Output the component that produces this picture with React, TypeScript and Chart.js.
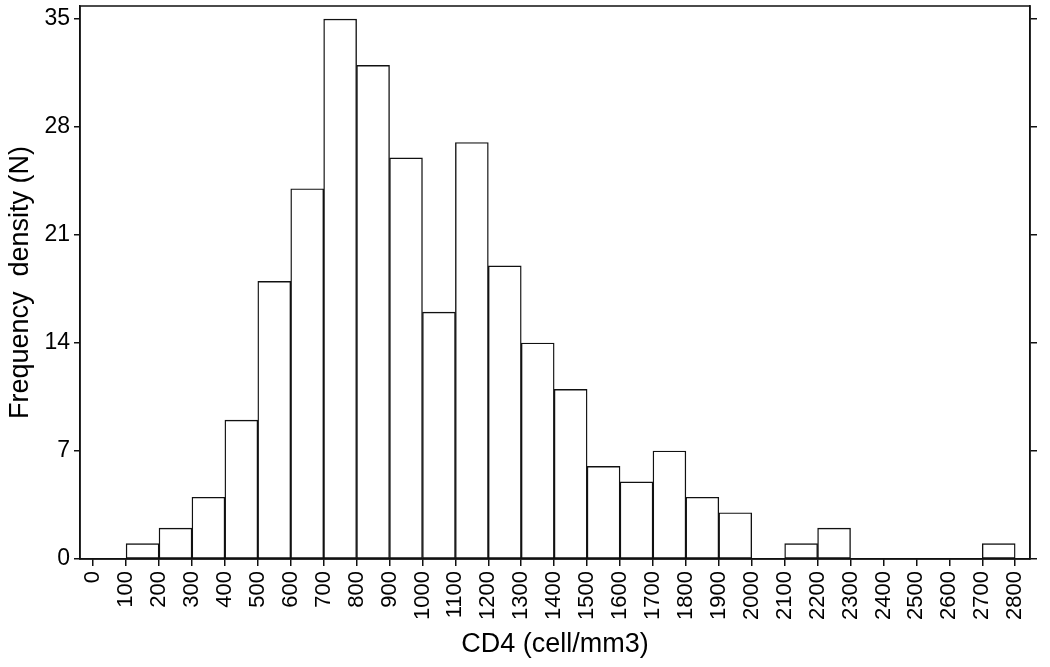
import React, { useEffect, useRef } from "react";
import { Chart, registerables } from "chart.js";

Chart.register(...registerables);

// Bin centres (CD4, cell/mm3), bins 100 wide
const binCenters = [50, 150, 250, 350, 450, 550, 650, 750, 850, 950, 1050, 1150, 1250, 1350, 1450, 1550, 1650, 1750, 1850, 1950, 2050, 2150, 2250, 2350, 2450, 2550, 2650, 2750];
const counts: (number | null)[] = [null, 1, 2, 4, 9, 18, 24, 35, 32, 26, 16, 27, 19, 14, 11, 6, 5, 7, 4, 3, null, 1, 2, null, null, null, null, 1];
const xTicks = [0, 100, 200, 300, 400, 500, 600, 700, 800, 900, 1000, 1100, 1200, 1300, 1400, 1500, 1600, 1700, 1800, 1900, 2000, 2100, 2200, 2300, 2400, 2500, 2600, 2700, 2800];
const yTicks = [0, 7, 14, 21, 28, 35];
const xTitle = "CD4 (cell/mm3)";
const yTitle = "Frequency  density (N)";

const FONT = "'Liberation Sans', Arial, sans-serif";

export default function App() {
  const ref = useRef<HTMLCanvasElement | null>(null);

  useEffect(() => {
    document.body.style.margin = "0";
    const canvas = ref.current;
    if (!canvas) return;

    const framePlugin = {
      id: "frame",
      afterDraw(chart: any) {
        const { ctx, chartArea } = chart;
        ctx.save();
        ctx.strokeStyle = "#111";
        ctx.lineWidth = 1.5;
        ctx.strokeRect(chartArea.left, chartArea.top, chartArea.right - chartArea.left, chartArea.bottom - chartArea.top);
        ctx.restore();
      },
    };

    const chart = new Chart(canvas, {
      type: "bar",
      data: {
        datasets: [
          {
            data: binCenters.map((x, i) => ({ x, y: counts[i] })) as any,
            backgroundColor: "#ffffff",
            borderColor: "#111111",
            borderWidth: 1.4,
            borderSkipped: false,
            barPercentage: 1,
            categoryPercentage: 1,
            yAxisID: "y",
          },
        ],
      },
      options: {
        animation: false,
        responsive: false,
        maintainAspectRatio: false,
        layout: { padding: { top: 6, left: 0, right: 0, bottom: 0 } },
        plugins: { legend: { display: false }, tooltip: { enabled: false } },
        scales: {
          x: {
            type: "linear",
            offset: false,
            min: -40,
            max: 2845,
            afterBuildTicks: (scale: any) => {
              scale.ticks = xTicks.map((v) => ({ value: v }));
            },
            afterFit: (scale: any) => {
              scale.height = 108;
              scale.paddingLeft = 0;
              scale.paddingRight = 0;
            },
            ticks: {
              autoSkip: false,
              minRotation: 90,
              maxRotation: 90,
              padding: 5,
              color: "#000",
              font: { family: FONT, size: 22 },
              callback: (v: any) => String(v),
            },
            grid: { offset: false, drawOnChartArea: false, drawTicks: true, tickLength: 7, color: "#111", lineWidth: 1.5 },
            border: { display: true, color: "#111", width: 1.5 },
            title: { display: true, text: xTitle, color: "#000", font: { family: FONT, size: 27 }, padding: { top: 0, bottom: 6 } },
          },
          y: {
            type: "linear",
            position: "left",
            min: 0,
            max: 35.85,
            afterBuildTicks: (scale: any) => {
              scale.ticks = yTicks.map((v) => ({ value: v }));
            },
            afterFit: (scale: any) => {
              scale.width = 80;
              scale.paddingTop = 0;
              scale.paddingBottom = 0;
            },
            ticks: { padding: 4, color: "#000", font: { family: FONT, size: 23 } },
            grid: { drawOnChartArea: false, drawTicks: true, tickLength: 6, color: "#111", lineWidth: 1.5 },
            border: { display: true, color: "#111", width: 1.5 },
            title: { display: true, text: yTitle, color: "#000", font: { family: FONT, size: 27 }, padding: { top: 4, bottom: 4 } },
          },
          y2: {
            type: "linear",
            position: "right",
            min: 0,
            max: 35.85,
            afterBuildTicks: (scale: any) => {
              scale.ticks = yTicks.map((v) => ({ value: v }));
            },
            afterFit: (scale: any) => {
              scale.width = 20;
              scale.paddingTop = 0;
              scale.paddingBottom = 0;
            },
            ticks: { display: false },
            grid: { drawOnChartArea: false, drawTicks: true, tickLength: 7, color: "#111", lineWidth: 1.5 },
            border: { display: true, color: "#111", width: 1.5 },
          },
        },
      },
      plugins: [framePlugin],
    } as any);

    return () => chart.destroy();
  }, []);

  return (
    <div style={{ position: "fixed", left: 0, top: 0, width: 1050, height: 667, background: "#fff" }}>
      <canvas ref={ref} width={1050} height={667} style={{ display: "block", width: 1050, height: 667 }} />
    </div>
  );
}
